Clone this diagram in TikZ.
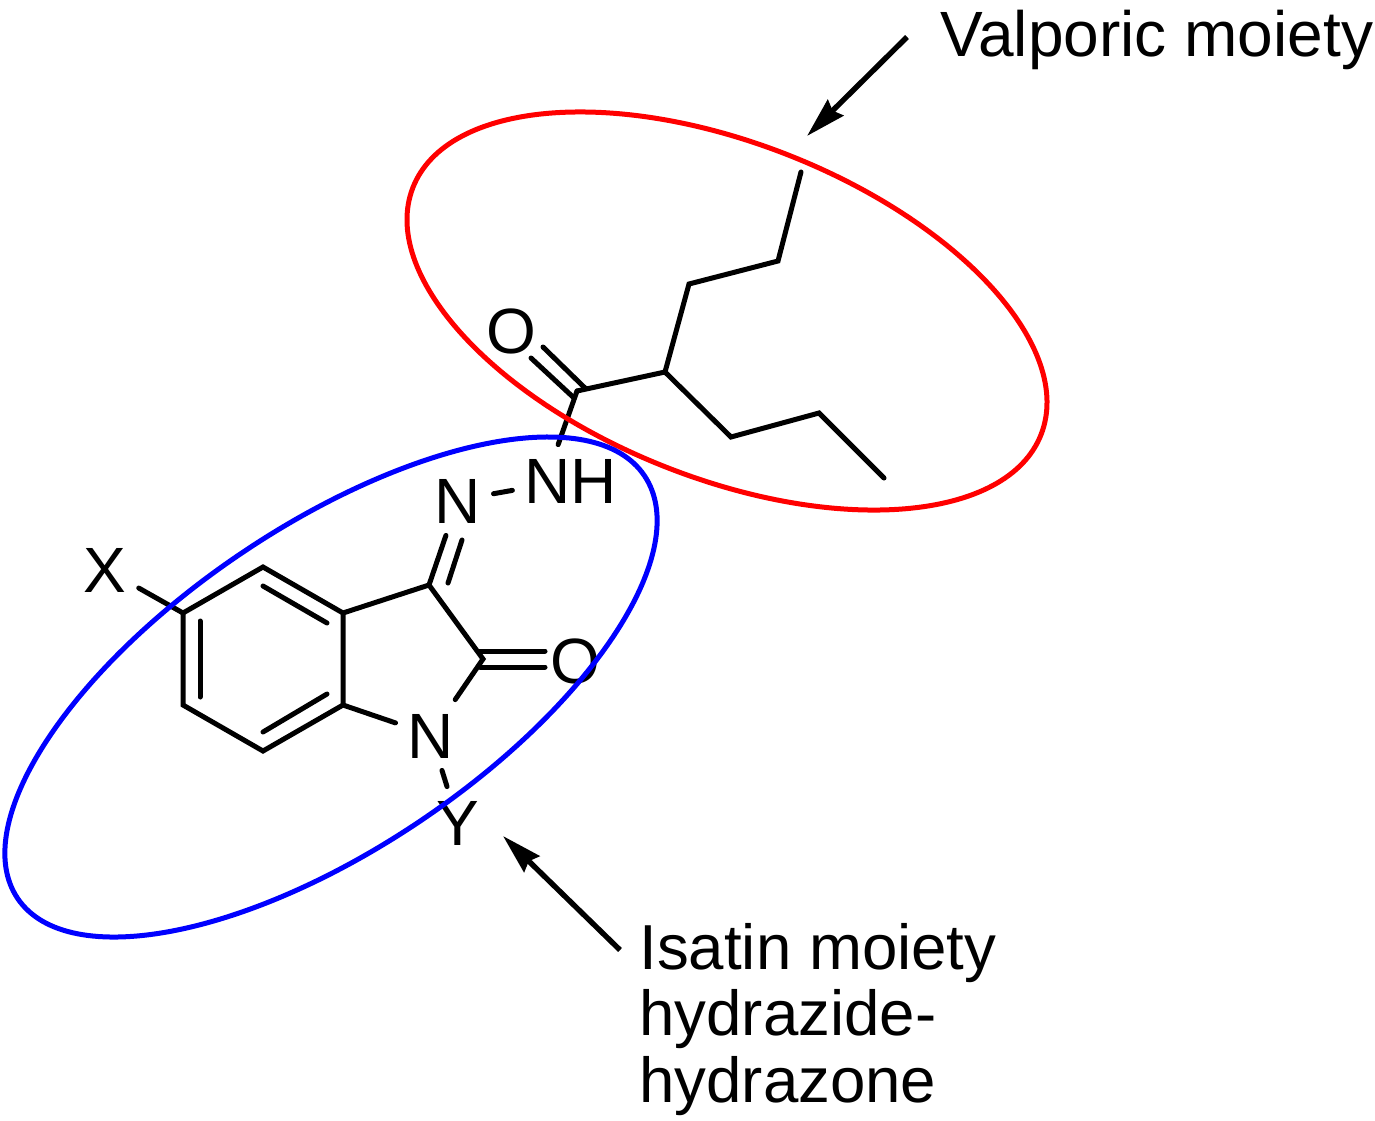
\documentclass[tikz,border=0pt]{standalone}
\usepackage{fontspec}
\setmainfont{Liberation Sans}
\usetikzlibrary{arrows.meta,positioning,shapes.geometric}

\begin{document}
\begin{tikzpicture}[x=0.5pt,y=-0.5pt,
  atom/.style={font=\fontsize{32}{33}\selectfont,inner sep=6pt,text height=23pt,text depth=0pt},
  caption/.style={font=\fontsize{31.8}{33.25}\selectfont,inner sep=0pt,align=left},
  bond/.style={line width=2.5pt,line cap=round,line join=miter},
  pointer/.style={line width=2.7pt,-{Stealth[length=20pt,width=11pt,inset=2pt]}},
  moiety/.style={ellipse,draw,line width=2.5pt,inner sep=0pt}]
\useasboundingbox (0,0) rectangle (1375,1120);

% atoms with a label
  \node[atom] (oa)  at (511,330) {O};
  \node[atom] (nh)  at (571,480) {NH};
  \node[atom] (nb)  at (458,500) {N};
  \node[atom] (x)   at (105,569) {X};
  \node[atom] (ob)  at (575,660) {O};
  \node[atom] (na)  at (431,735) {N};
  \node[atom] (y)   at (458,822) {Y};

% carbons
  \coordinate (c1) at (577,391);
  \coordinate (c2) at (665,372);
  \coordinate (c3) at (689,284);
  \coordinate (c4) at (778,261);
  \coordinate (c5) at (801,172);
  \coordinate (c6) at (731,437);
  \coordinate (c7) at (819,413);
  \coordinate (c8) at (884,478);
  \coordinate (r1) at (263,567);
  \coordinate (r2) at (343,613);
  \coordinate (r3) at (343,705);
  \coordinate (r4) at (263,751);
  \coordinate (r5) at (183,705);
  \coordinate (r6) at (183,613);
  \coordinate (c9) at (429,585);
  \coordinate (ca) at (483,659);

% ends of the double bonds
  \coordinate (d1) at (573,397);
  \coordinate (d2) at (531,358);
  \coordinate (d3) at (585,388);
  \coordinate (d4) at (543,347);
  \coordinate (d5) at (480,651);
  \coordinate (d6) at (545,651);
  \coordinate (d7) at (480,667);
  \coordinate (d8) at (545,667);
  \coordinate (d9) at (448,583);
  \coordinate (da) at (462,540);
  \coordinate (i1) at (263,586);
  \coordinate (i2) at (327,623);
  \coordinate (i3) at (200,621);
  \coordinate (i4) at (200,697);
  \coordinate (i5) at (263,732);
  \coordinate (i6) at (327,694);

% chains and ring
  \draw[bond] (c5) -- (c4) -- (c3) -- (c2) -- (c1);
  \draw[bond] (c2) -- (c6) -- (c7) -- (c8);
  \draw[bond] (r2) -- (r1) -- (r6) -- (r5) -- (r4) -- (r3) -- cycle;
  \draw[bond] (r2) -- (c9) -- (ca) -- (na);
  \draw[bond] (r3) -- (na);

  \path[bond]
    (c1)  edge  (nh.110)
    (nb)  edge  (nh)
    (c9)  edge  (nb)
    (x)   edge  (r6)
    (na)  edge  (y)
    (d1)  edge  (d2)
    (d3)  edge  (d4)
    (d5)  edge  (d6)
    (d7)  edge  (d8)
    (d9)  edge  (da)
    (i1)  edge  (i2)
    (i3)  edge  (i4)
    (i5)  edge  (i6);

% captions and arrows
  \node[caption,font=\fontsize{32}{33}\selectfont,anchor=base west] (valp) at (940,56) {Valporic moiety};
  \node[caption,anchor=base west] (isat) at (639,1102) {Isatin moiety\\hydrazide-\\hydrazone};
  \coordinate (valpfrom) at (907,37);
  \coordinate (valpto)   at (807,136);
  \coordinate (isatfrom) at (620,950);
  \coordinate (isatto)   at (503,836);
  \draw[pointer] (valpfrom) -- (valpto);
  \draw[pointer] (isatfrom) -- (isatto);

% the two moieties
  \node[moiety,red,minimum width=337.5pt,minimum height=167.6pt,rotate=-21.5] (ringred) at (727,311) {};
  \node[moiety,blue,minimum width=378pt,minimum height=161pt,rotate=34] (ringblue) at (331,687) {};
\end{tikzpicture}
\end{document}
